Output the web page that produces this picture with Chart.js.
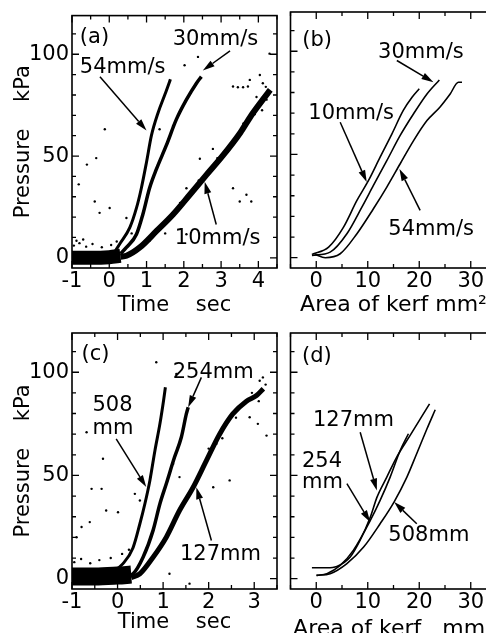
<!DOCTYPE html>
<html>
<head>
<meta charset="utf-8">
<script src="https://cdn.jsdelivr.net/npm/chart.js@4.4.1/dist/chart.umd.min.js"></script>
<style>
html,body{margin:0;padding:0;background:#fff;overflow:hidden;width:486px;height:633px}
canvas{position:absolute;left:0;top:0}
</style>
</head>
<body>
<canvas id="pa" width="520" height="660"></canvas>
<canvas id="pb" width="520" height="660"></canvas>
<canvas id="pc" width="520" height="660"></canvas>
<canvas id="pd" width="520" height="660"></canvas>
<script>
// tick labels
const pressureTicks = [0, 50, 100];
const timeTicksA = [-1, 0, 1, 2, 3, 4];
const timeTicksC = [-1, 0, 1, 2, 3];
const areaTicks = [0, 10, 20, 30];

// (a) pressure vs time, cutting speed  [sec, kPa]
const a54 = [[0.15,3],[0.28,6.8],[0.55,14.8],[0.73,24.5],[0.86,34.2],[1.0,47.1],[1.13,60],[1.31,71.3],[1.49,80.1],[1.62,86.6],[1.64,87.7]];
const a30 = [[0.3,2],[0.46,5.1],[0.73,11.6],[0.9,21.3],[1.08,34.2],[1.27,43.8],[1.53,55.2],[1.8,68],[2.07,77.7],[2.34,85.8],[2.47,89]];
const a10 = [[0.3,0.5],[0.46,1],[0.82,5.1],[1.27,13.2],[1.71,21.3],[2.16,31],[2.6,40.6],[3.05,50.3],[3.52,61.6],[3.8,69.7],[4.12,77.7],[4.32,82.5]];
const aBase = [[-1,0],[-0.5,0],[0,0.3],[0.3,1]];
const aStray = [[-0.12,63.2],[-0.6,45.8],[-0.35,49],[-0.82,36.1],[-0.39,27.7],[-0.26,22.1],[0.01,24.5],[0.46,19.6],[-0.88,8.4],
  [2.02,94.6],[2.38,98.7],[3.32,84.2],[3.45,83.8],[3.59,83.8],[3.72,84.2],[2.43,48.7],[2.78,53.5],[3.32,34.2],[3.5,27.7],
  [2.07,34.2],[1.35,63.2],[1.71,64.8],[1.08,8.4],[2.07,11.6],[4.3,100.3],[4.04,89.8],[3.77,87.4],[4.22,77.7],[3.68,31],
  [3.81,27.7],[4.12,85.8],[-0.95,6],[-0.8,7.2],[-0.62,5.5],[-0.45,6.8],[-0.2,5.2],[0.05,6.3],[-0.7,9],[0.2,8],
  [4.0,74],[4.1,72.5],[4.25,80],[3.95,79],[4.2,84],[3.9,70.5],[3.6,66],[3.3,57],[2.9,49],[2.4,38],[1.9,27],[1.5,12],[0.6,12]];

// (b) pressure vs area of kerf  [mm2, kPa]
const b10 = [[-0.84,1.6],[2.4,5.1],[5.3,14.8],[7.9,27.7],[10.15,37.4],[12.4,48.7],[14.7,60],[16.9,71.3],[18.6,77.7],[20,81.8]];
const b30 = [[-0.84,1.1],[2.7,2.7],[5.95,11.6],[8.86,24.5],[11.1,35],[13.7,47],[16.3,59.2],[18.9,69.7],[21.5,79.3],[23.9,86.1]];
const b54 = [[-0.2,1.6],[1.75,0],[4.65,1.9],[7.9,11.6],[11.1,23.7],[13.7,34.2],[16.3,45.5],[18.9,56.7],[21.5,66.4],[24,72.9],[26,79.3],[27.6,85],[28.3,85]];

// (c) pressure vs time, stand-off distance  [sec, kPa]
const c508 = [[-0.17,2.4],[0.12,7.3],[0.34,15],[0.49,26.6],[0.6,36.3],[0.71,47.6],[0.82,62],[0.93,75],[1.01,86.3],[1.05,92.7]];
const c254 = [[0.2,1.5],[0.34,2.4],[0.56,10.4],[0.78,23.4],[0.93,36.3],[1.07,46],[1.25,58.8],[1.4,68.5],[1.51,79.8],[1.55,83]];
const c127 = [[0.3,0.5],[0.49,2.4],[0.78,10.4],[1.07,20.1],[1.36,33],[1.66,44.3],[1.95,57.2],[2.24,70],[2.53,79.8],[2.83,86],[3.05,88.7],[3.2,92]];
const cBase = [[-1,1],[-0.5,1],[0,1.5],[0.3,2]];
const cStray = [[-0.68,70.9],[-0.32,58.1],[-0.57,43.5],[-0.35,43.5],[-0.25,33],[0.01,32.2],[-0.61,27.4],[-0.79,25],[-0.9,20.1],
  [0.38,41.1],[0.49,37.9],[0.85,104.8],[1.29,99.2],[1.22,55.6],[1.36,49.2],[2.17,65.3],[2.1,44.3],[2.46,47.6],[1.14,2.4],
  [1.58,-2.4],[2.9,78.2],[3.08,75],[3.27,69.3],[3.12,95.9],[3.19,97.5],[-0.95,8],[-0.8,9.5],[-0.6,7.5],[-0.4,9],[-0.15,10],
  [0.1,12],[0.25,14],[2.7,84],[2.95,90],[3.1,86],[3.25,94],[2.6,78],[2.3,68],[2.0,63],[1.8,40]];

// (d) pressure vs area of kerf  [mm2, kPa]
const d127 = [[-0.84,5.3],[2.07,5.3],[4.0,5.95],[6.6,10.5],[8.5,18.5],[10.5,29.8],[11.8,39.5],[13.7,49.2],[15.6,58.8],[18.2,69.3],[20.2,77.4],[22,84.7]];
const d254 = [[0.13,1.6],[2.07,2.4],[4.65,6.4],[7.2,13.7],[10.5,28.2],[12.4,37.9],[14.35,49.2],[16.3,62.1],[17.9,70.2]];
const d508 = [[0,1.6],[2.7,2.4],[5.95,7.3],[9.2,15.3],[12.4,26.6],[15.1,37.1],[17.6,49.2],[19.5,60.5],[21.5,72.6],[23.1,81.8]];

// labels and arrows, in data units
const notesA = [{t:'(a)',x:-0.79,y:108},{t:'54mm/s',x:-0.79,y:93.4},{t:'30mm/s',x:1.7,y:107},{t:'10mm/s',x:1.76,y:9.3}];
const arrowsA = [[-0.25,89,1.0,62.5],[3.24,101.7,2.51,92],[2.87,16.4,2.56,37.4]];
const notesB = [{t:'(b)',x:-2.7,y:105},{t:'30mm/s',x:12,y:99.3},{t:'10mm/s',x:-1.55,y:69.8},{t:'54mm/s',x:14,y:13.7}];
const arrowsB = [[15.65,95.5,22.76,85],[4.65,65.6,9.8,36.6],[20.17,22.9,16.16,43]];
const notesC = [{t:'(c)',x:-0.79,y:108.7},{t:'508',x:-0.55,y:83.8},{t:'mm',x:-0.55,y:72.7},{t:'254mm',x:1.21,y:99.7},{t:'127mm',x:1.37,y:11.8}];
const arrowsC = [[-0.03,67.7,0.63,44.4],[1.84,97.5,1.55,83],[2.06,18.5,1.73,44.3]];
const notesD = [{t:'(d)',x:-2.77,y:107.5},{t:'127mm',x:-0.64,y:76.6},{t:'254',x:-2.77,y:56.8},{t:'mm',x:-2.77,y:46.7},{t:'508mm',x:14,y:20.9}];
const arrowsD = [[8.53,70.9,11.77,42.7],[5.95,46,10.47,27.4],[19.52,26.6,15.13,37.1]];

Chart.defaults.font.family = "'DejaVu Sans', Verdana, sans-serif";
Chart.defaults.font.size = 21;
Chart.defaults.color = '#000';
const W = 520, H = 660;
const FONT = "21px 'DejaVu Sans', Verdana, sans-serif";

function xy(arr) { return arr.map(p => ({x: p[0], y: p[1]})); }
function band(d, w) {
  return {data: xy(d), showLine: true, borderColor: '#000', borderWidth: w, pointRadius: 0,
    cubicInterpolationMode: 'monotone', fill: false};
}
function dots(d) {
  return {data: xy(d), showLine: false, pointRadius: 1.2, pointBackgroundColor: '#000', pointBorderWidth: 0};
}
function curve(d) {
  return {data: xy(d), showLine: true, borderColor: '#000', borderWidth: 1.6, pointRadius: 0,
    cubicInterpolationMode: 'monotone', fill: false};
}

function isMajor(v, m) { return Math.abs(v / m - Math.round(v / m)) < 1e-6; }

// box, inward ticks on all sides, labels and arrows
function frame(p) {
  return {
    id: 'frame',
    afterDraw(chart) {
      const {ctx, chartArea: a, scales: {x, y}} = chart;
      ctx.save();
      ctx.strokeStyle = '#000';
      ctx.fillStyle = '#000';
      ctx.lineWidth = 1.6;
      ctx.strokeRect(a.left, a.top, a.right - a.left, a.bottom - a.top);
      ctx.lineWidth = 1.3;
      ctx.beginPath();
      for (let i = Math.ceil(x.min / p.xStep); i * p.xStep <= x.max + 1e-9; i++) {
        const v = i * p.xStep, px = x.getPixelForValue(v);
        const len = isMajor(v, p.xMajor) ? 7 : 4;
        ctx.moveTo(px, a.bottom); ctx.lineTo(px, a.bottom - len);
        ctx.moveTo(px, a.top); ctx.lineTo(px, a.top + len);
      }
      for (let i = Math.ceil(y.min / 10); i * 10 <= y.max + 1e-9; i++) {
        const v = i * 10, py = y.getPixelForValue(v);
        const len = isMajor(v, 50) ? 7 : 4;
        ctx.moveTo(a.left, py); ctx.lineTo(a.left + len, py);
        ctx.moveTo(a.right, py); ctx.lineTo(a.right - len, py);
      }
      ctx.stroke();

      ctx.font = FONT;
      ctx.textAlign = 'left';
      ctx.textBaseline = 'middle';
      p.notes.forEach(n => ctx.fillText(n.t, x.getPixelForValue(n.x), y.getPixelForValue(n.y)));

      ctx.lineWidth = 1.5;
      p.arrows.forEach(r => {
        const x1 = x.getPixelForValue(r[0]), y1 = y.getPixelForValue(r[1]);
        const x2 = x.getPixelForValue(r[2]), y2 = y.getPixelForValue(r[3]);
        const ang = Math.atan2(y2 - y1, x2 - x1), c = Math.cos(ang), s = Math.sin(ang);
        const hl = 12, hw = 3.5;
        ctx.beginPath();
        ctx.moveTo(x1, y1);
        ctx.lineTo(x2 - hl * c, y2 - hl * s);
        ctx.stroke();
        ctx.beginPath();
        ctx.moveTo(x2, y2);
        ctx.lineTo(x2 - hl * c - hw * s, y2 - hl * s + hw * c);
        ctx.lineTo(x2 - hl * c + hw * s, y2 - hl * s - hw * c);
        ctx.closePath();
        ctx.fill();
      });
      ctx.restore();
    }
  };
}

function panel(id, box, xh, xr, xTicks, xTitle, xTitleSize, showY, datasets, deco) {
  new Chart(document.getElementById(id), {
    type: 'scatter',
    data: {datasets: datasets},
    options: {
      responsive: false,
      animation: false,
      layout: {padding: {left: 0, top: box.top, right: W - box.right, bottom: H - box.bottom - xh}},
      plugins: {legend: {display: false}, tooltip: {enabled: false}},
      scales: {
        x: {
          type: 'linear', min: xr[0], max: xr[1],
          grid: {display: false, drawTicks: false}, border: {display: false},
          afterBuildTicks: s => { s.ticks = xTicks.map(v => ({value: v})); },
          afterFit: s => { s.height = xh; },
          ticks: {padding: 1, maxRotation: 0, autoSkip: false},
          title: {display: true, text: xTitle, font: {size: xTitleSize}, padding: 0}
        },
        y: {
          min: -5, max: 119,
          grid: {display: false, drawTicks: false}, border: {display: false},
          afterBuildTicks: s => { s.ticks = pressureTicks.map(v => ({value: v})); },
          afterFit: s => { s.width = box.left; },
          ticks: {display: showY, padding: 3},
          title: {display: showY, text: 'Pressure    kPa', padding: {top: 11, bottom: 0}}
        }
      }
    },
    plugins: [frame(deco)]
  });
}

panel('pa', {left: 72, top: 12, right: 277, bottom: 268}, 50.6, [-1, 4.5], timeTicksA, 'Time    sec', 21, true,
  [band(aBase, 14), band(a10, 6), band(a30, 3.5), band(a54, 3), dots(aStray)],
  {xStep: 0.5, xMajor: 1, notes: notesA, arrows: arrowsA});

panel('pb', {left: 290.5, top: 12, right: 496.5, bottom: 268}, 50.7, [-5, 35], areaTicks, 'Area of kerf mm²', 22, false,
  [curve(b10), curve(b30), curve(b54)],
  {xStep: 5, xMajor: 10, notes: notesB, arrows: arrowsB});

panel('pc', {left: 72, top: 333, right: 277, bottom: 589}, 46.6, [-1, 3.5], timeTicksC, 'Time    sec', 21, true,
  [band(cBase, 18), band(c127, 5), band(c254, 3.5), band(c508, 3), dots(cStray)],
  {xStep: 0.5, xMajor: 1, notes: notesC, arrows: arrowsC});

panel('pd', {left: 290.5, top: 333, right: 496.5, bottom: 589}, 53.2, [-5, 35], areaTicks, 'Area of kerf   mm²', 22, false,
  [curve(d127), curve(d254), curve(d508)],
  {xStep: 5, xMajor: 10, notes: notesD, arrows: arrowsD});
</script>
</body>
</html>
